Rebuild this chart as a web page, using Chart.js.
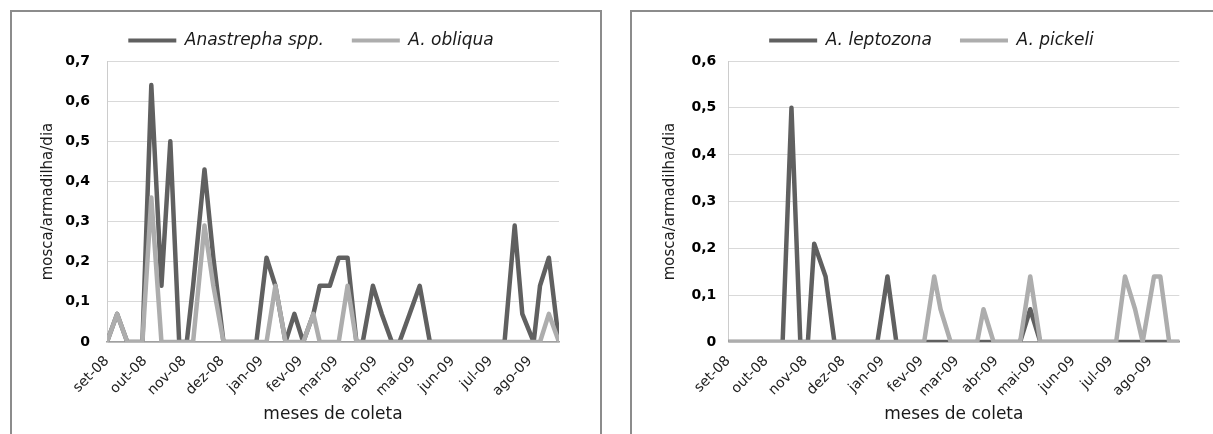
<!DOCTYPE html>
<html>
<head>
<meta charset="utf-8">
<script src="https://cdn.jsdelivr.net/npm/chart.js@4.4.1/dist/chart.umd.min.js"></script>
<style>
  html, body { margin: 0; padding: 0; background: #fff; }
  body { width: 1213px; height: 434px; position: relative; overflow: hidden; }
  .frame { position: absolute; top: 10px; height: 440px; border: 2px solid #8c8c8c; box-sizing: border-box; }
  #f1 { left: 10px; width: 592px; }
  #f2 { left: 630px; width: 620px; }
  canvas { position: absolute; top: 0; }
  #c1 { left: 0; }
  #c2 { left: 650px; }
</style>
</head>
<body>
<div class="frame" id="f1"></div>
<div class="frame" id="f2"></div>
<canvas id="c1" width="622" height="434"></canvas>
<canvas id="c2" width="563" height="434"></canvas>
<script>
// dias de coleta, contados a partir de 1 de setembro de 2008
const days = [0, 8, 16, 21, 28, 35, 43, 50, 57, 63, 68, 77, 84, 92, 98, 105, 112, 118, 126, 133,
  141, 148, 155, 163, 168, 176, 183, 190, 197, 202, 210, 217, 225, 231, 239, 247, 255, 262, 269, 277,
  284, 291, 299, 307, 314, 322, 328, 337, 342, 349, 357];

// inicio de cada mes (rotulos do eixo x)
const monthStarts = [0, 30, 61, 91, 122, 153, 181, 212, 242, 273, 303, 334];
const monthLabels = ['set-08', 'out-08', 'nov-08', 'dez-08', 'jan-09', 'fev-09',
  'mar-09', 'abr-09', 'mai-09', 'jun-09', 'jul-09', 'ago-09'];

// mosca/armadilha/dia
const anastrephaSpp = [0, 0.07, 0, 0, 0, 0.64, 0.14, 0.5, 0, 0, 0.14, 0.43, 0.21, 0, 0, 0, 0, 0, 0.21, 0.14,
  0, 0.07, 0, 0.07, 0.14, 0.14, 0.21, 0.21, 0, 0, 0.14, 0.07, 0, 0, 0.07, 0.14, 0, 0, 0, 0,
  0, 0, 0, 0, 0, 0.29, 0.07, 0, 0.14, 0.21, 0];
const aObliqua = [0, 0.07, 0, 0, 0, 0.36, 0, 0, 0, 0, 0, 0.29, 0.14, 0, 0, 0, 0, 0, 0, 0.14,
  0, 0, 0, 0.07, 0, 0, 0, 0.14, 0, 0, 0, 0, 0, 0, 0, 0, 0, 0, 0, 0,
  0, 0, 0, 0, 0, 0, 0, 0, 0, 0.07, 0];
const aLeptozona = [0, 0, 0, 0, 0, 0, 0, 0.5, 0, 0, 0.21, 0.14, 0, 0, 0, 0, 0, 0, 0.14, 0,
  0, 0, 0, 0, 0, 0, 0, 0, 0, 0, 0, 0, 0, 0, 0.07, 0, 0, 0, 0, 0,
  0, 0, 0, 0, 0, 0, 0, 0, 0, 0, 0];
const aPickeli = [0, 0, 0, 0, 0, 0, 0, 0, 0, 0, 0, 0, 0, 0, 0, 0, 0, 0, 0, 0,
  0, 0, 0, 0.14, 0.07, 0, 0, 0, 0, 0.07, 0, 0, 0, 0, 0.14, 0, 0, 0, 0, 0,
  0, 0, 0, 0, 0.14, 0.07, 0, 0.14, 0.14, 0, 0];

const colors = { dark: '#606060', light: '#adadad' };
const font = 'DejaVu Sans';

// legenda um pouco mais alta que o padrao
const legendHeight = {
  id: 'legendHeight',
  beforeInit(chart) {
    const fit = chart.legend.fit;
    chart.legend.fit = function () {
      fit.call(this);
      this.height = 57;
    };
  }
};

function buildChart(id, cfg) {
  const ctx = document.getElementById(id).getContext('2d');
  return new Chart(ctx, {
    type: 'line',
    data: {
      datasets: cfg.series.map(s => ({
        label: s.label,
        data: days.map((d, i) => ({ x: d, y: s.values[i] })),
        borderColor: s.color,
        backgroundColor: s.color,
        borderWidth: 4.5,
        pointRadius: 0,
        tension: 0,
        borderJoinStyle: 'round',
        borderCapStyle: 'round',
        order: s.order
      }))
    },
    options: {
      responsive: false,
      animation: false,
      layout: { padding: { top: 4, right: 0, bottom: 0, left: 0 } },
      plugins: {
        tooltip: { enabled: false },
        legend: {
          labels: {
            boxWidth: 48,
            boxHeight: 4,
            padding: 28,
            color: '#1a1a1a',
            font: { family: font, size: 17, style: 'italic' },
            sort: (a, b) => a.datasetIndex - b.datasetIndex,
            generateLabels: chart => Chart.defaults.plugins.legend.labels.generateLabels(chart)
              .map(l => ({ ...l, lineWidth: 0, fillStyle: chart.data.datasets[l.datasetIndex].borderColor }))
          }
        }
      },
      scales: {
        x: {
          type: 'linear',
          min: 0,
          max: days[days.length - 1],
          afterBuildTicks: axis => { axis.ticks = monthStarts.map(v => ({ value: v })); },
          afterFit: s => { s.height = 92; },
          grid: { display: false },
          border: { color: '#a0a0a0', width: 1.5 },
          ticks: {
            autoSkip: false,
            minRotation: 45,
            maxRotation: 45,
            padding: 3,
            color: '#222',
            font: { family: font, size: 14 },
            callback: v => monthLabels[monthStarts.indexOf(v)]
          },
          title: {
            display: true,
            text: 'meses de coleta',
            color: '#1a1a1a',
            font: { family: font, size: 17 },
            padding: { top: 0, bottom: 9 }
          }
        },
        y: {
          min: 0,
          max: cfg.yMax,
          afterFit: s => { s.width = cfg.yWidth; },
          grid: { color: '#d9d9d9', drawTicks: false },
          border: { color: '#cccccc' },
          ticks: {
            stepSize: 0.1,
            padding: cfg.tickPad,
            color: '#000',
            font: { family: font, size: 14, weight: 'bold' },
            callback: v => v === 0 ? '0' : v.toFixed(1).replace('.', ',')
          },
          title: {
            display: true,
            text: 'mosca/armadilha/dia',
            color: '#1a1a1a',
            font: { family: font, size: 15 },
            padding: { top: cfg.titlePad, bottom: 0 }
          }
        },
        yRight: {
          position: 'right',
          afterFit: s => { s.width = cfg.rightWidth; },
          grid: { display: false },
          border: { display: false },
          ticks: { display: false }
        }
      }
    },
    plugins: [legendHeight]
  });
}

buildChart('c1', {
  series: [
    { label: 'Anastrepha spp.', values: anastrephaSpp, color: colors.dark, order: 1 },
    { label: 'A. obliqua', values: aObliqua, color: colors.light, order: 0 }
  ],
  yMax: 0.7, yWidth: 107, rightWidth: 63, titlePad: 39, tickPad: 17
});

buildChart('c2', {
  series: [
    { label: 'A. leptozona', values: aLeptozona, color: colors.dark, order: 1 },
    { label: 'A. pickeli', values: aPickeli, color: colors.light, order: 0 }
  ],
  yMax: 0.6, yWidth: 78.3, rightWidth: 33.7, titlePad: 11, tickPad: 12
});
</script>
</body>
</html>
